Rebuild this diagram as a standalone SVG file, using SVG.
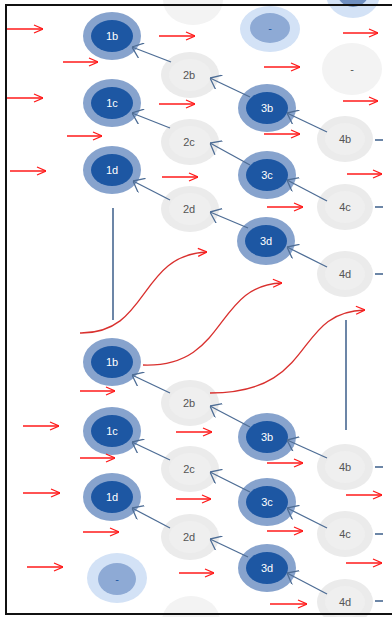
<svg xmlns="http://www.w3.org/2000/svg" width="392" height="617" viewBox="0 0 392 617">
  <defs>
    <style>
      .ring { fill: #87a3cd; }
      .core { fill: #1d57a3; }
      .lite { fill: #ebebeb; }
      .liteIn { fill: #efefef; }
      .ghost { fill: #f3f3f3; }
      .haloB { fill: #d3e2f6; }
      .coreB { fill: #8eaad5; }
      .lblW { font-family: "Liberation Sans", "DejaVu Sans", sans-serif; font-size: 11px; fill: #ffffff; text-anchor: middle; dominant-baseline: central; }
      .lblG { font-family: "Liberation Sans", "DejaVu Sans", sans-serif; font-size: 11px; fill: #555555; text-anchor: middle; dominant-baseline: central; }
      .lblB { font-family: "Liberation Sans", "DejaVu Sans", sans-serif; font-size: 11px; fill: #1d57a3; text-anchor: middle; dominant-baseline: central; }
      .flow { stroke: #ff1a1a; stroke-width: 1.3; fill: none; marker-end: url(#redHead); }
      .curve { stroke: #d9302e; stroke-width: 1.3; fill: none; marker-end: url(#redHead); }
      .link { stroke: #4e6d95; stroke-width: 1.3; fill: none; marker-end: url(#blueHead); }
      .stub { stroke: #3d5f8a; stroke-width: 1.5; fill: none; }
    </style>
    <marker id="redHead" viewBox="0 0 10 10" refX="10" refY="5" markerWidth="10" markerHeight="10" markerUnits="userSpaceOnUse" orient="auto">
      <path d="M1,1 L10,5 L1,9" fill="none" stroke="#ff1a1a" stroke-width="1.3"/>
    </marker>
    <marker id="blueHead" viewBox="0 0 12 16" refX="12" refY="8" markerWidth="12" markerHeight="16" markerUnits="userSpaceOnUse" orient="auto">
      <path d="M2,0 L12,8 L2,16" fill="none" stroke="#4e6d95" stroke-width="1.3"/>
    </marker>
  </defs>

  <rect x="0" y="0" width="392" height="617" fill="#ffffff"/>

  <!-- partial / placeholder nodes along the edges -->
  <g id="top-ghost"><ellipse cx="193" cy="0" rx="30" ry="25" class="ghost"/></g>
  <g id="top-right"><ellipse cx="353" cy="-6" rx="27" ry="24" class="haloB"/><ellipse cx="353" cy="-8" rx="16" ry="15" fill="#6f8fc0"/></g>
  <g id="empty-top"><ellipse cx="270" cy="29" rx="30" ry="23" class="haloB"/><ellipse cx="270" cy="28" rx="20" ry="15" class="coreB"/><text x="270" y="28" class="lblB">-</text></g>
  <g id="empty-right"><ellipse cx="352" cy="69" rx="30" ry="26" class="ghost"/><text x="352" y="69" class="lblG">-</text></g>
  <g id="empty-bottom"><ellipse cx="117" cy="578" rx="30" ry="25" class="haloB"/><ellipse cx="117" cy="579" rx="19" ry="16" class="coreB"/><text x="117" y="579" class="lblB">-</text></g>
  <g id="bottom-ghost"><ellipse cx="191" cy="621" rx="29" ry="25" class="ghost"/></g>

  <!-- upper block -->
  <g id="n1b"><ellipse cx="112" cy="36" rx="29" ry="24" class="ring"/><ellipse cx="112" cy="36" rx="21" ry="16" class="core"/><text x="112" y="36" class="lblW">1b</text></g>
  <g id="n1c"><ellipse cx="112" cy="103" rx="29" ry="24" class="ring"/><ellipse cx="112" cy="103" rx="21" ry="16" class="core"/><text x="112" y="103" class="lblW">1c</text></g>
  <g id="n1d"><ellipse cx="112" cy="170" rx="29" ry="24" class="ring"/><ellipse cx="112" cy="170" rx="21" ry="16" class="core"/><text x="112" y="170" class="lblW">1d</text></g>
  <g id="n2b"><ellipse cx="190" cy="75" rx="29" ry="23" class="lite"/><ellipse cx="190" cy="75" rx="21" ry="16" class="liteIn"/><text x="189" y="75" class="lblG">2b</text></g>
  <g id="n2c"><ellipse cx="190" cy="142" rx="29" ry="23" class="lite"/><ellipse cx="190" cy="142" rx="21" ry="16" class="liteIn"/><text x="189" y="142" class="lblG">2c</text></g>
  <g id="n2d"><ellipse cx="190" cy="209" rx="29" ry="23" class="lite"/><ellipse cx="190" cy="209" rx="21" ry="16" class="liteIn"/><text x="189" y="209" class="lblG">2d</text></g>
  <g id="n3b"><ellipse cx="267" cy="108" rx="29" ry="24" class="ring"/><ellipse cx="267" cy="108" rx="21" ry="16" class="core"/><text x="267" y="108" class="lblW">3b</text></g>
  <g id="n3c"><ellipse cx="267" cy="175" rx="29" ry="24" class="ring"/><ellipse cx="267" cy="175" rx="21" ry="16" class="core"/><text x="267" y="175" class="lblW">3c</text></g>
  <g id="n3d"><ellipse cx="266" cy="241" rx="29" ry="24" class="ring"/><ellipse cx="266" cy="241" rx="21" ry="16" class="core"/><text x="266" y="241" class="lblW">3d</text></g>
  <g id="n4b"><ellipse cx="345" cy="139" rx="28" ry="23" class="lite"/><ellipse cx="345" cy="139" rx="20" ry="16" class="liteIn"/><text x="345" y="139" class="lblG">4b</text></g>
  <g id="n4c"><ellipse cx="345" cy="207" rx="28" ry="23" class="lite"/><ellipse cx="345" cy="207" rx="20" ry="16" class="liteIn"/><text x="345" y="207" class="lblG">4c</text></g>
  <g id="n4d"><ellipse cx="345" cy="274" rx="28" ry="23" class="lite"/><ellipse cx="345" cy="274" rx="20" ry="16" class="liteIn"/><text x="345" y="274" class="lblG">4d</text></g>

  <!-- lower block -->
  <g id="m1b"><ellipse cx="112" cy="362" rx="29" ry="24" class="ring"/><ellipse cx="112" cy="362" rx="21" ry="16" class="core"/><text x="112" y="362" class="lblW">1b</text></g>
  <g id="m1c"><ellipse cx="112" cy="431" rx="29" ry="24" class="ring"/><ellipse cx="112" cy="431" rx="21" ry="16" class="core"/><text x="112" y="431" class="lblW">1c</text></g>
  <g id="m1d"><ellipse cx="112" cy="497" rx="29" ry="24" class="ring"/><ellipse cx="112" cy="497" rx="21" ry="16" class="core"/><text x="112" y="497" class="lblW">1d</text></g>
  <g id="m2b"><ellipse cx="190" cy="403" rx="29" ry="23" class="lite"/><ellipse cx="190" cy="403" rx="21" ry="16" class="liteIn"/><text x="189" y="403" class="lblG">2b</text></g>
  <g id="m2c"><ellipse cx="190" cy="469" rx="29" ry="23" class="lite"/><ellipse cx="190" cy="469" rx="21" ry="16" class="liteIn"/><text x="189" y="469" class="lblG">2c</text></g>
  <g id="m2d"><ellipse cx="190" cy="537" rx="29" ry="23" class="lite"/><ellipse cx="190" cy="537" rx="21" ry="16" class="liteIn"/><text x="189" y="537" class="lblG">2d</text></g>
  <g id="m3b"><ellipse cx="267" cy="437" rx="29" ry="24" class="ring"/><ellipse cx="267" cy="437" rx="21" ry="16" class="core"/><text x="267" y="437" class="lblW">3b</text></g>
  <g id="m3c"><ellipse cx="267" cy="502" rx="29" ry="24" class="ring"/><ellipse cx="267" cy="502" rx="21" ry="16" class="core"/><text x="267" y="502" class="lblW">3c</text></g>
  <g id="m3d"><ellipse cx="267" cy="568" rx="29" ry="24" class="ring"/><ellipse cx="267" cy="568" rx="21" ry="16" class="core"/><text x="267" y="568" class="lblW">3d</text></g>
  <g id="m4b"><ellipse cx="345" cy="467" rx="28" ry="23" class="lite"/><ellipse cx="345" cy="467" rx="20" ry="16" class="liteIn"/><text x="345" y="467" class="lblG">4b</text></g>
  <g id="m4c"><ellipse cx="345" cy="534" rx="28" ry="23" class="lite"/><ellipse cx="345" cy="534" rx="20" ry="16" class="liteIn"/><text x="345" y="534" class="lblG">4c</text></g>
  <g id="m4d"><ellipse cx="345" cy="602" rx="28" ry="23" class="lite"/><ellipse cx="345" cy="602" rx="20" ry="16" class="liteIn"/><text x="345" y="602" class="lblG">4d</text></g>

  <g id="connectors">
    <!-- links between neighbouring nodes -->
    <path class="link" d="M171,62 L132,47"/>
    <path class="link" d="M170,128 L132,113"/>
    <path class="link" d="M170,200 L133,181"/>
    <path class="link" d="M250,97 L210,78"/>
    <path class="link" d="M250,165 L210,143"/>
    <path class="link" d="M248,228 L210,212"/>
    <path class="link" d="M327,132 L287,113"/>
    <path class="link" d="M327,201 L287,180"/>
    <path class="link" d="M327,267 L287,247"/>
    <path class="link" d="M170,393 L132,375"/>
    <path class="link" d="M170,460 L132,442"/>
    <path class="link" d="M170,528 L132,508"/>
    <path class="link" d="M250,427 L210,406"/>
    <path class="link" d="M250,492 L210,472"/>
    <path class="link" d="M248,557 L210,539"/>
    <path class="link" d="M327,458 L287,440"/>
    <path class="link" d="M327,528 L287,508"/>
    <path class="link" d="M327,594 L287,573"/>

    <!-- outgoing stubs and vertical bars -->
    <path class="stub" d="M375,140 H383 M375,207 H383 M375,274 H383 M375,467 H383 M375,534 H383 M375,601 H383"/>
    <path class="stub" d="M113,208 V320 M346,320 V430"/>

    <!-- curved transfers -->
    <path class="curve" d="M80,333 C150,334 138,255 207,252"/>
    <path class="curve" d="M143,365 C228,368 214,285 282,283"/>
    <path class="curve" d="M210,393 C318,393 292,312 365,310"/>

    <!-- red flow arrows -->
    <path class="flow" d="M7,29 H43"/>
    <path class="flow" d="M63,62 H98"/>
    <path class="flow" d="M7,98 H43"/>
    <path class="flow" d="M67,136 H102"/>
    <path class="flow" d="M10,171 H46"/>
    <path class="flow" d="M159,36 H195"/>
    <path class="flow" d="M159,104 H195"/>
    <path class="flow" d="M162,177 H198"/>
    <path class="flow" d="M264,67 H300"/>
    <path class="flow" d="M264,134 H300"/>
    <path class="flow" d="M267,207 H303"/>
    <path class="flow" d="M343,33 H378"/>
    <path class="flow" d="M343,101 H378"/>
    <path class="flow" d="M347,174 H382"/>
    <path class="flow" d="M80,391 H115"/>
    <path class="flow" d="M23,426 H59"/>
    <path class="flow" d="M80,458 H115"/>
    <path class="flow" d="M23,493 H60"/>
    <path class="flow" d="M83,532 H119"/>
    <path class="flow" d="M27,567 H63"/>
    <path class="flow" d="M176,432 H212"/>
    <path class="flow" d="M176,499 H211"/>
    <path class="flow" d="M179,573 H214"/>
    <path class="flow" d="M267,463 H303"/>
    <path class="flow" d="M267,531 H303"/>
    <path class="flow" d="M270,604 H307"/>
    <path class="flow" d="M346,495 H382"/>
    <path class="flow" d="M346,563 H382"/>
  </g>

  <!-- frame -->
  <rect x="6" y="5" width="400" height="609" fill="none" stroke="#111111" stroke-width="2"/>
</svg>
